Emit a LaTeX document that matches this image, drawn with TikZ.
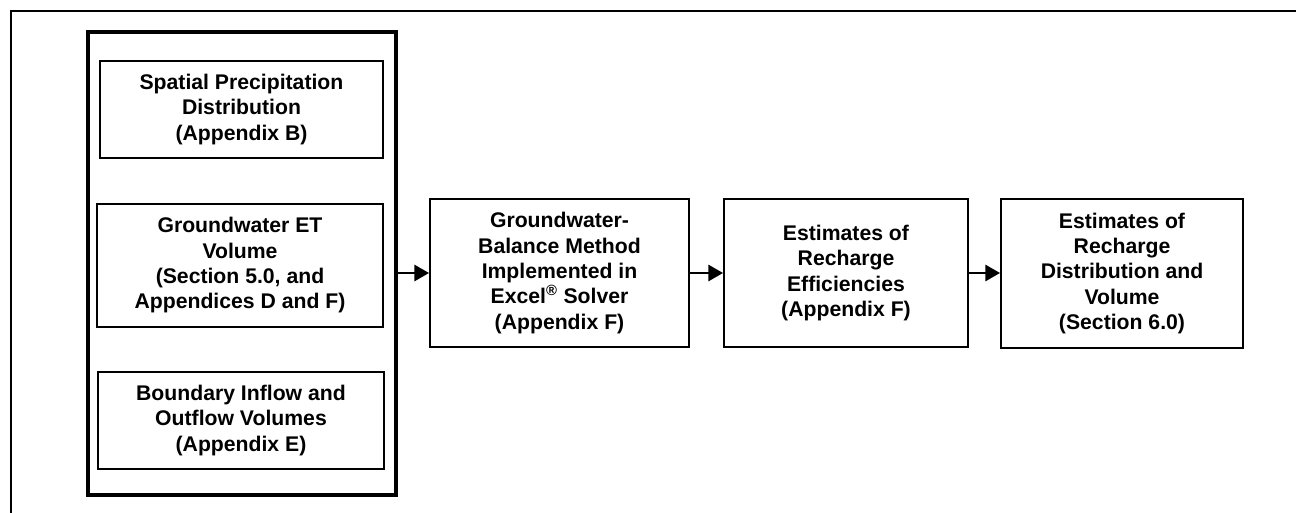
\documentclass[tikz,border=0pt]{standalone}
\usepackage{fontspec}
\setmainfont{Liberation Sans}
\usetikzlibrary{arrows.meta}
\tikzset{
  px/.style={x=0.75pt,y=-0.75pt},
  box/.style={draw, line width=1.4pt, rectangle, inner sep=0pt, align=center,
    font=\fontsize{15.9}{19}\selectfont\bfseries},
  groupbox/.style={draw, line width=3.2pt, rectangle, inner sep=0pt},
  frameline/.style={line width=1.6pt},
  flow/.style={line width=2.1pt, -{Triangle[length=11pt,width=12pt]}}
}
\begin{document}
\begin{tikzpicture}[px]
\useasboundingbox (0,0) rectangle (1296,513);
\coordinate (fbl) at (11,513);
\coordinate (ftl) at (11,11);
\coordinate (ftr) at (1296,11);
\draw[frameline] (fbl) -- (ftl) -- (ftr);
\node[groupbox, minimum width=231pt, minimum height=347.25pt] (grp) at (242,263.5) {};
\node[box, minimum width=212.25pt, minimum height=72.75pt] (b1) at (241.5,109.5)
  {Spatial Precipitation\\ Distribution\\ (Appendix B)};
\node[box, minimum width=214.5pt, minimum height=92.25pt] (b2) at (240,265.5)
  {Groundwater ET\\ Volume\\ (Section 5.0, and\\ Appendices D and F)};
\node[box, minimum width=214.5pt, minimum height=72.75pt] (b3) at (241,420.5)
  {Boundary Inflow and\\ Outflow Volumes\\ (Appendix E)};
\node[box, minimum width=194.25pt, minimum height=111pt] (b4) at (559.5,273)
  {Groundwater-\\ Balance Method\\ Implemented in\\ Excel\textsuperscript{®} Solver\\ (Appendix F)};
\node[box, minimum width=183pt, minimum height=111pt] (b5) at (846,273)
  {Estimates of\\ Recharge\\ Efficiencies\\ (Appendix F)};
\node[box, minimum width=181.5pt, minimum height=111.75pt] (b6) at (1122,273.5)
  {Estimates of\\ Recharge\\ Distribution and\\ Volume\\ (Section 6.0)};
\draw[flow] (grp.east |- b4.west) -- (b4.west);
\draw[flow] (b4.east) -- (b5.west);
\draw[flow] (b5.east) -- (b5.east -| b6.west);
\end{tikzpicture}
\end{document}
